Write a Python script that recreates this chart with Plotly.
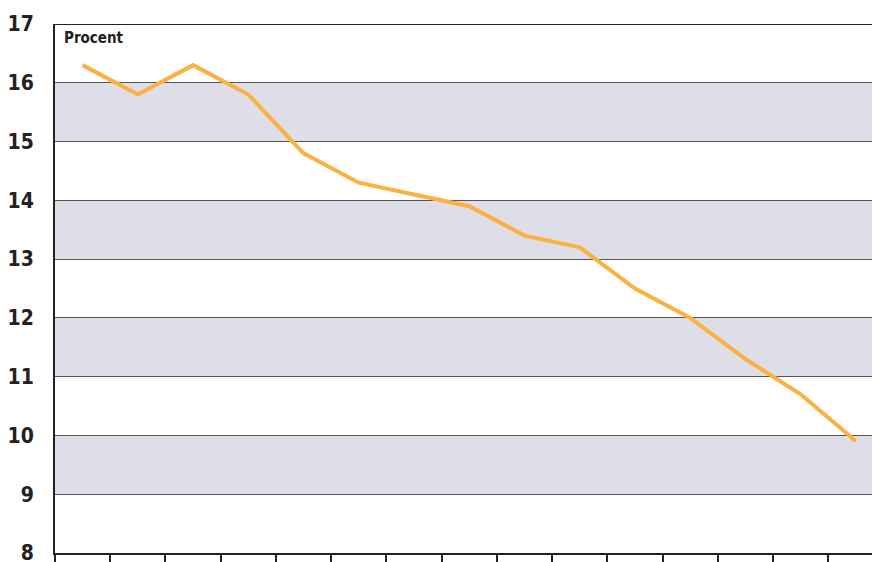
import plotly.graph_objects as go

# Share (Procent) per period, left to right
periods = list(range(15))
procent = [16.3, 15.8, 16.3, 15.8, 14.8, 14.3, 14.1, 13.9, 13.4, 13.2, 12.5, 12.0, 11.3, 10.7, 9.9]

# Y axis setup and the shaded horizontal bands
y_ticks = [8, 9, 10, 11, 12, 13, 14, 15, 16, 17]
bands = [(9, 10), (11, 12), (13, 14), (15, 16)]

FONT = "DejaVu Sans Condensed"

fig = go.Figure()
fig.add_trace(go.Scatter(
    x=periods, y=procent, mode="lines",
    line=dict(color="#FBB03F", width=4),
    hoverinfo="skip", showlegend=False,
))

for lo, hi in bands:
    fig.add_shape(type="rect", xref="paper", yref="y", x0=0, x1=1, y0=lo, y1=hi,
                  fillcolor="#DEDEE8", line_width=0, layer="below")

# Top frame line at the upper end of the scale
fig.add_shape(type="line", xref="paper", yref="y", x0=0, x1=1,
              y0=y_ticks[-1], y1=y_ticks[-1], line=dict(color="#222222", width=2))

# Category boundaries carry the tick marks
boundaries = [p - 0.5 for p in periods] + [periods[-1] + 0.5]

fig.update_layout(
    width=872, height=562,
    margin=dict(l=55, r=0, t=24, b=9, autoexpand=False),
    plot_bgcolor="white", paper_bgcolor="white",
    font=dict(family=FONT, color="#222222"),
    xaxis=dict(
        range=[-0.5, 14.29], showgrid=False, zeroline=False,
        showline=True, linecolor="#222222", linewidth=2,
        tickmode="array", tickvals=boundaries, ticks="outside",
        ticklen=10, tickwidth=2, tickcolor="#222222",
        showticklabels=False, automargin=False,
    ),
    yaxis=dict(
        range=[8, 17], tickmode="array", tickvals=y_ticks,
        showgrid=True, gridcolor="#555555", gridwidth=1.3,
        zeroline=False, showline=True, linecolor="#222222", linewidth=2,
        ticks="", ticklabelstandoff=15, ticklabeloverflow="allow",
        automargin=False,
        tickfont=dict(family=FONT, size=21, color="#222222", weight="bold"),
    ),
    annotations=[dict(
        text="<b>Procent</b>", xref="paper", yref="paper", x=0.009, y=0.995,
        xanchor="left", yanchor="top", showarrow=False,
        font=dict(family=FONT, size=15, color="#222222"),
    )],
)

fig.write_html("out.html")
